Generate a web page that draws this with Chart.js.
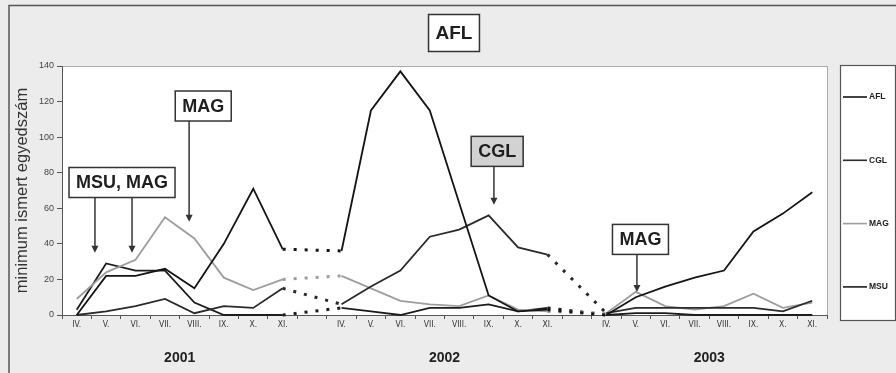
<!DOCTYPE html>
<html>
<head>
<meta charset="utf-8">
<script src="https://cdn.jsdelivr.net/npm/chart.js@4/dist/chart.umd.min.js"></script>
<style>
  html, body { margin: 0; padding: 0; background: #ececec; }
</style>
</head>
<body>
<canvas id="chart" width="896" height="373"></canvas>
<script>
// months sampled each year, with an empty slot between the years
const months = ['IV.', 'V.', 'VI.', 'VII.', 'VIII.', 'IX.', 'X.', 'XI.'];
const years = ['2001', '2002', '2003'];
const monthLabels = [...months, '', ...months, '', ...months];

const seriesNames = ['AFL', 'CGL', 'MAG', 'MSU'];

const afl = [0, 22, 22, 26, 15, 40, 71, 37, null, 36, 115, 137, 115, 63, 11, 2, 3, null, 0, 10, 16, 21, 25, 47, 57, 69];
const cgl = [0, 2, 5, 9, 1, 5, 4, 15, null, 6, 16, 25, 44, 48, 56, 38, 34, null, 1, 4, 4, 4, 4, 4, 2, 8];
const mag = [9, 24, 31, 55, 43, 21, 14, 20, null, 22, 15, 8, 6, 5, 11, 3, 2, null, 1, 13, 5, 3, 5, 12, 4, 7];
const msu = [3, 29, 25, 25, 7, 0, 0, 0, null, 4, 2, 0, 4, 4, 6, 2, 4, null, 0, 1, 1, 0, 0, 0, 0, 0];

// callout labels: box centre and arrow tips in data units (category index, value)
const callouts = [
  { text: 'MSU, MAG', at: [1.54, 74.5], arrows: [[0.62, 35], [1.88, 35]] },
  { text: 'MAG', at: [4.3, 117.5], arrows: [[3.82, 52.5]] },
  { text: 'CGL', at: [14.29, 92], arrows: [[14.18, 62]], fill: '#d2d2d2' },
  { text: 'MAG', at: [19.16, 42.5], arrows: [[19.04, 13]] }
];

const seriesColors = ['#141414', '#2a2a2a', '#9d9d9d', '#1c1c1c'];
const inGap = ctx => ctx.p0.skip || ctx.p1.skip;

function drawBox(ctx, text, cx, cy, fill, font, h) {
  ctx.font = font;
  const w = ctx.measureText(text).width + 14;
  ctx.fillStyle = fill;
  ctx.fillRect(cx - w / 2, cy - h / 2, w, h);
  ctx.strokeStyle = '#333';
  ctx.lineWidth = 1.5;
  ctx.strokeRect(cx - w / 2, cy - h / 2, w, h);
  ctx.fillStyle = '#1e1e1e';
  ctx.textAlign = 'center';
  ctx.textBaseline = 'middle';
  ctx.fillText(text, cx, cy + 1);
  return cy + h / 2;
}

const decor = {
  id: 'decor',
  beforeDraw(chart) {
    const {ctx, chartArea: a} = chart;
    ctx.save();
    ctx.fillStyle = '#ececec';
    ctx.fillRect(0, 0, chart.width, chart.height);
    ctx.strokeStyle = '#555';
    ctx.lineWidth = 1.5;
    ctx.beginPath();
    ctx.moveTo(9, chart.height);
    ctx.lineTo(9, 5.5);
    ctx.lineTo(chart.width, 5.5);
    ctx.stroke();
    ctx.fillStyle = '#fff';
    ctx.fillRect(a.left, a.top, a.right - a.left, a.bottom - a.top);
    ctx.strokeStyle = '#aaa';
    ctx.lineWidth = 1;
    ctx.strokeRect(a.left + 0.5, a.top + 0.5, a.right - a.left, a.bottom - a.top);
    ctx.restore();
  },
  afterDraw(chart) {
    const {ctx, scales: {x, y}} = chart;
    ctx.save();
    // title
    drawBox(ctx, 'AFL', chart.width / 2 + 6, 33, '#fff', 'bold 19px Arial, "Liberation Sans", sans-serif', 37);

    // callouts with arrows
    callouts.forEach(c => {
      const bottom = drawBox(ctx, c.text, x.getPixelForValue(c.at[0]), y.getPixelForValue(c.at[1]),
        c.fill || '#fff', 'bold 18px Arial, "Liberation Sans", sans-serif', 30);
      c.arrows.forEach(([ai, av]) => {
        const ax = x.getPixelForValue(ai);
        const ay = y.getPixelForValue(av);
        ctx.strokeStyle = '#333';
        ctx.fillStyle = '#333';
        ctx.lineWidth = 1.5;
        ctx.beginPath();
        ctx.moveTo(ax, bottom);
        ctx.lineTo(ax, ay - 6);
        ctx.stroke();
        ctx.beginPath();
        ctx.moveTo(ax - 3.5, ay - 7);
        ctx.lineTo(ax + 3.5, ay - 7);
        ctx.lineTo(ax, ay);
        ctx.closePath();
        ctx.fill();
      });
    });

    // legend
    ctx.fillStyle = '#fff';
    ctx.fillRect(840, 65, 55, 255);
    ctx.strokeStyle = '#555';
    ctx.lineWidth = 1.2;
    ctx.strokeRect(840.5, 65.5, 55, 255);
    chart.data.datasets.forEach((ds, i) => {
      const ly = 97 + i * 63.3;
      ctx.strokeStyle = ds.borderColor;
      ctx.lineWidth = 1.6;
      ctx.beginPath();
      ctx.moveTo(843, ly);
      ctx.lineTo(867, ly);
      ctx.stroke();
      ctx.fillStyle = '#222';
      ctx.font = 'bold 8.5px Arial, "Liberation Sans", sans-serif';
      ctx.textAlign = 'left';
      ctx.textBaseline = 'middle';
      ctx.fillText(ds.label, 869, ly);
    });
    ctx.restore();
  }
};

const seriesData = [afl, cgl, mag, msu];

new Chart(document.getElementById('chart'), {
  type: 'line',
  data: {
    labels: monthLabels,
    datasets: seriesNames.map((name, i) => ({
      label: name,
      data: seriesData[i],
      xAxisID: 'x',
      yAxisID: 'y',
      borderColor: seriesColors[i],
      borderWidth: 1.8,
      pointRadius: 0,
      tension: 0,
      spanGaps: true,
      clip: false,
      segment: {
        borderDash: ctx => inGap(ctx) ? [3, 8] : undefined,
        borderWidth: ctx => inGap(ctx) ? 3 : undefined
      }
    }))
  },
  options: {
    responsive: false,
    animation: false,
    devicePixelRatio: 1,
    layout: { padding: { left: 10, right: 69, top: 66, bottom: 0 } },
    plugins: {
      legend: { display: false },
      tooltip: { enabled: false }
    },
    scales: {
      x: {
        type: 'category',
        offset: true,
        grid: { drawOnChartArea: false, tickLength: 4, color: '#555', offset: true },
        border: { color: '#555' },
        ticks: {
          autoSkip: false, maxRotation: 0, color: '#333', padding: 1,
          font: { size: 8.5, family: '"Liberation Sans Narrow", "DejaVu Sans Condensed", Arial' }
        },
        afterFit: s => { s.height = 22; }
      },
      y: {
        min: 0,
        max: 140,
        ticks: { stepSize: 20, color: '#444', padding: 3, font: { size: 9, family: 'Arial' } },
        grid: { drawOnChartArea: false, tickLength: 5, color: '#555' },
        border: { color: '#555' },
        title: {
          display: true, text: 'minimum ismert egyedszám', color: '#333',
          font: { size: 16.5, family: 'Arial' }, padding: { top: 3, bottom: 0 }
        },
        afterFit: s => { s.width = 52; }
      },
      year: {
        type: 'linear',
        position: 'bottom',
        weight: 1,
        min: -0.5,
        max: monthLabels.length - 0.5,
        grid: { display: false, drawTicks: false },
        border: { display: false },
        afterBuildTicks: s => { s.ticks = years.map((_, i) => ({ value: i * (months.length + 1) + 3.5 })); },
        ticks: {
          autoSkip: false, maxRotation: 0, color: '#222', padding: 13,
          font: { size: 14, weight: 'bold', family: 'Arial' },
          callback: v => years[Math.round((v - 3.5) / (months.length + 1))]
        },
        afterFit: s => { s.height = 36; }
      }
    }
  },
  plugins: [decor]
});
</script>
</body>
</html>
